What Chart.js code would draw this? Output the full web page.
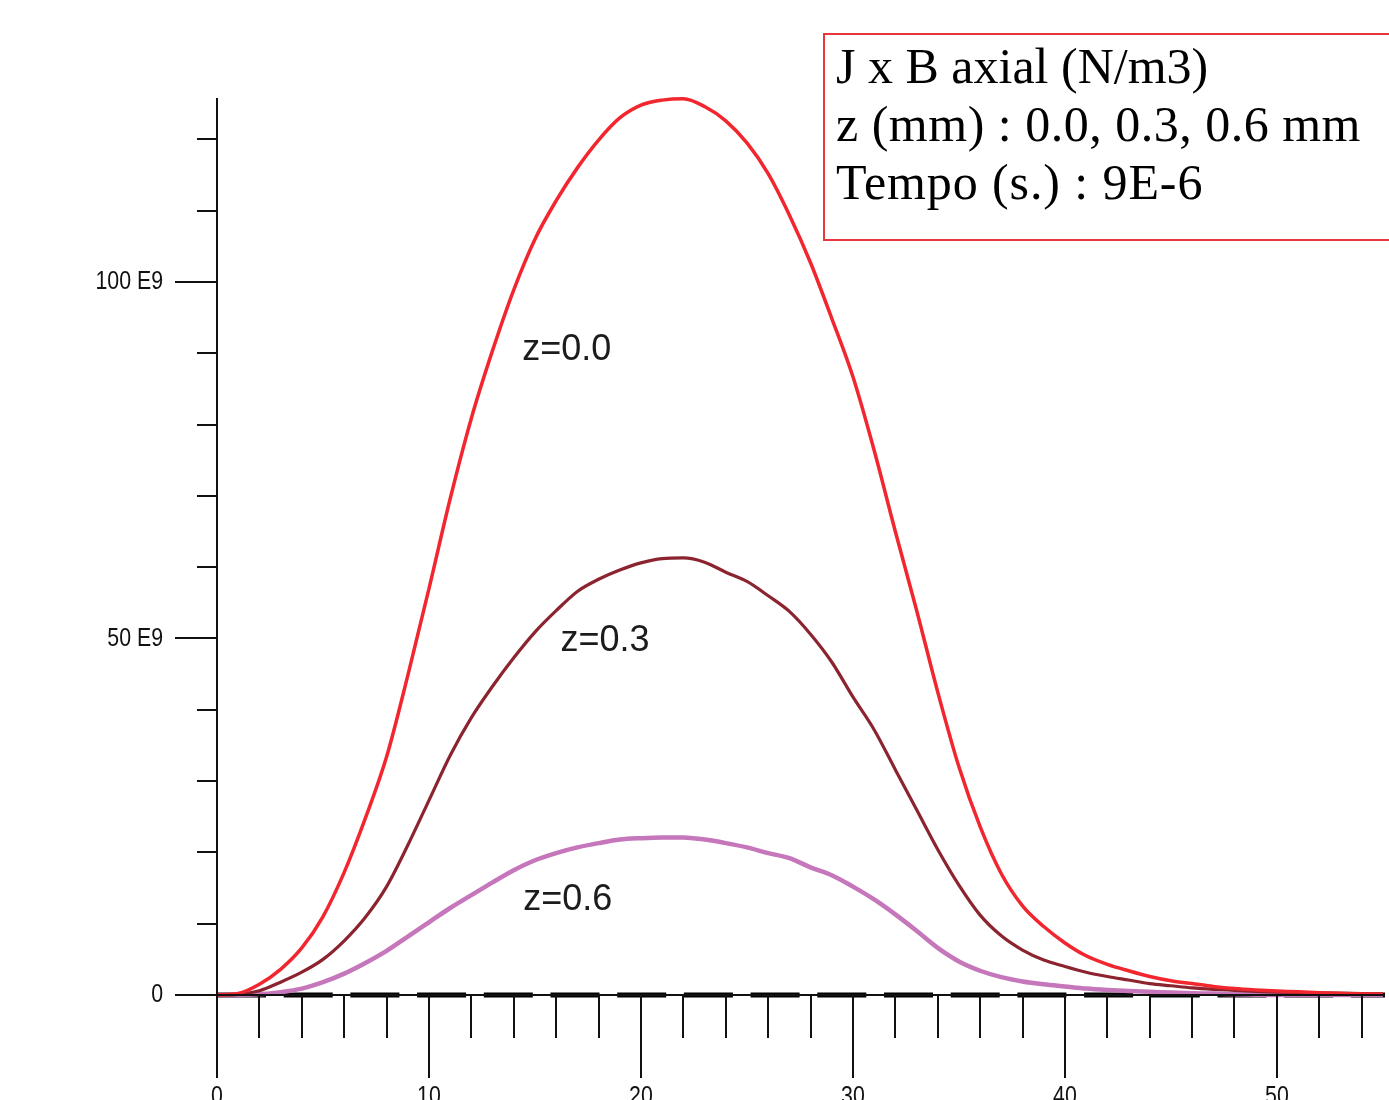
<!DOCTYPE html>
<html>
<head>
<meta charset="utf-8">
<script src="https://cdn.jsdelivr.net/npm/chart.js@4"></script>
<style>
  html, body { margin: 0; padding: 0; background: #fff; }
  #wrap { position: relative; width: 1389px; height: 1100px; overflow: hidden; background: #fff; }
  #wrap canvas { position: absolute; left: 0; top: 0; }
  .info-box {
    position: absolute; left: 823px; top: 33px; width: 620px; height: 202px;
    border: 2px solid #e8363c; background: #fff;
    font-family: 'Liberation Serif', 'Times New Roman', serif; font-size: 50px; line-height: 58px;
    color: #000; padding: 2px 0 0 11px; box-sizing: content-box; white-space: nowrap;
  }
  .info-box .wide { letter-spacing: 0.5px; }
  .info-box .wider { letter-spacing: 0.9px; }
</style>
</head>
<body>
<div id="wrap">
  <canvas id="chart" width="1389" height="1100"></canvas>
  <div class="info-box">
    <div>J x B axial (N/m3)</div>
    <div class="wide">z (mm) : 0.0, 0.3, 0.6 mm</div>
    <div class="wider">Tempo (s.) : 9E-6</div>
  </div>
</div>
<script>
// ── data (values in units of 1E9 N/m3) ──
const xs = [0,1,2,3,4,5,6,7,8,9,10,11,12,13,14,15,16,17,18,19,20,21,22,23,24,25,26,27,
  28,29,30,31,32,33,34,35,36,37,38,39,40,41,42,43,44,45,46,47,48,49,50,51,52,53,54,55];

const z00 = [0, 0.2, 1.5, 3.6, 6.6, 11.0, 17.2, 24.8, 33.4, 44.8, 57.0, 69.6, 80.9, 90.4, 98.9,
  106.0, 111.4, 116.0, 119.9, 123.0, 124.8, 125.5, 125.7, 124.6, 122.6, 119.5, 115.2, 109.4, 102.7,
  94.9, 86.7, 76.4, 65.0, 54.0, 42.5, 32.0, 23.6, 17.0, 12.5, 9.6, 7.3, 5.5, 4.3, 3.4, 2.6, 2.0,
  1.6, 1.2, 0.9, 0.7, 0.55, 0.45, 0.3, 0.2, 0.15, 0.1];

const z03 = [0, 0.1, 0.6, 1.8, 3.2, 5.0, 7.6, 10.9, 15.2, 21.0, 27.3, 33.6, 38.9, 43.3, 47.3,
  50.9, 53.9, 56.6, 58.3, 59.6, 60.6, 61.2, 61.3, 60.7, 59.3, 58.0, 56.0, 53.8, 50.6, 46.7, 41.8,
  37.2, 31.6, 26.0, 20.4, 15.4, 11.2, 8.3, 6.3, 4.9, 4.0, 3.2, 2.6, 2.1, 1.6, 1.3, 1.0, 0.8, 0.65,
  0.5, 0.4, 0.35, 0.3, 0.25, 0.2, 0.15];

const z06 = [0, 0, 0.1, 0.4, 0.9, 1.8, 3.0, 4.5, 6.2, 8.2, 10.2, 12.2, 14.0, 15.8, 17.5, 18.9,
  19.9, 20.7, 21.3, 21.8, 22.0, 22.1, 22.1, 21.8, 21.3, 20.7, 19.9, 19.2, 17.9, 16.8, 15.2, 13.4,
  11.3, 9.0, 6.6, 4.7, 3.4, 2.5, 1.9, 1.5, 1.2, 0.9, 0.7, 0.55, 0.45, 0.35, 0.25, 0.2, 0.1, 0.05,
  0, 0, 0, 0, 0, 0];

const xMajor = [0, 10, 20, 30, 40, 50];
const xMinorStep = 2;
const yMajor = [0, 50, 100];
const yMajorLabels = ['0', '50 E9', '100 E9'];
const yMinorStep = 10;

// curve labels, anchored in data units
const curveLabels = ['z=0.0', 'z=0.3', 'z=0.6'];
const curveLabelX = [16.5, 18.3, 16.55];
const curveLabelY = [90.5, 49.6, 13.3];

const X_MAX = 55.1;
const Y_MAX = 125.8;

const toPts = arr => xs.map((x, i) => ({ x, y: arr[i] }));

// ── hand-drawn style axes (long/short ticks) ──
const axesPlugin = {
  id: 'oldAxes',
  afterDraw(chart) {
    const { ctx, scales: { x, y } } = chart;
    const x0 = x.getPixelForValue(0), y0 = y.getPixelForValue(0);
    ctx.save();
    ctx.strokeStyle = '#111';
    ctx.lineWidth = 2;
    ctx.beginPath();
    // y axis
    ctx.moveTo(x0, y.getPixelForValue(Y_MAX));
    ctx.lineTo(x0, y0 + 83);
    // x axis
    ctx.moveTo(x0, y0);
    ctx.lineTo(x.getPixelForValue(X_MAX), y0);
    // x ticks
    for (let v = 0; v <= X_MAX; v += xMinorStep) {
      const px = Math.round(x.getPixelForValue(v));
      const len = xMajor.includes(v) ? 83 : 43;
      ctx.moveTo(px, y0);
      ctx.lineTo(px, y0 + len);
    }
    // y ticks
    for (let v = 0; v <= Y_MAX; v += yMinorStep) {
      const py = Math.round(y.getPixelForValue(v));
      const len = yMajor.includes(v) ? 42 : 20;
      ctx.moveTo(x0, py);
      ctx.lineTo(x0 - len, py);
    }
    ctx.stroke();

    // tick labels (narrow sans)
    ctx.fillStyle = '#111';
    ctx.font = '26px "Liberation Sans", Arial, sans-serif';
    ctx.textBaseline = 'middle';
    ctx.textAlign = 'right';
    yMajor.forEach((v, i) => {
      ctx.save();
      ctx.translate(x0 - 54, y.getPixelForValue(v));
      ctx.scale(0.82, 1);
      ctx.fillText(yMajorLabels[i], 0, 0);
      ctx.restore();
    });
    ctx.textAlign = 'center';
    ctx.textBaseline = 'alphabetic';
    xMajor.forEach(v => {
      ctx.save();
      ctx.translate(x.getPixelForValue(v), y0 + 109);
      ctx.scale(0.82, 1);
      ctx.fillText(String(v), 0, 0);
      ctx.restore();
    });

    // curve labels
    ctx.font = '36px "Liberation Sans", Arial, sans-serif';
    ctx.fillStyle = '#1c1c1c';
    ctx.textBaseline = 'middle';
    curveLabels.forEach((t, i) => {
      ctx.fillText(t, x.getPixelForValue(curveLabelX[i]), y.getPixelForValue(curveLabelY[i]));
    });
    ctx.restore();
  }
};

const bgPlugin = {
  id: 'bg',
  beforeDraw(chart) {
    const { ctx, width, height } = chart;
    ctx.save();
    ctx.fillStyle = '#fff';
    ctx.fillRect(0, 0, width, height);
    ctx.restore();
  }
};

const common = { pointRadius: 0, fill: false, clip: false, cubicInterpolationMode: 'monotone' };

new Chart(document.getElementById('chart'), {
  type: 'line',
  data: {
    datasets: [
      { ...common, label: 'z=0.0', data: toPts(z00), borderColor: '#f2262e', borderWidth: 3.5 },
      { ...common, label: 'z=0.3', data: toPts(z03), borderColor: '#8c2430', borderWidth: 3.2 },
      { ...common, label: 'z=0.6', data: toPts(z06), borderColor: '#c676ba', borderWidth: 4.5 },
      { ...common, label: 'zero', data: [{ x: 0, y: 0 }, { x: X_MAX, y: 0 }],
        borderColor: '#000', borderWidth: 5, borderDash: [49, 17.7], borderCapStyle: 'butt' }
    ]
  },
  options: {
    responsive: false,
    animation: false,
    events: [],
    layout: { padding: { left: 217, right: 4, top: 98, bottom: 105 } },
    scales: {
      x: { type: 'linear', min: 0, max: X_MAX, display: false },
      y: { type: 'linear', min: 0, max: Y_MAX, display: false }
    },
    plugins: { legend: { display: false }, tooltip: { enabled: false } }
  },
  plugins: [bgPlugin, axesPlugin]
});
</script>
</body>
</html>
